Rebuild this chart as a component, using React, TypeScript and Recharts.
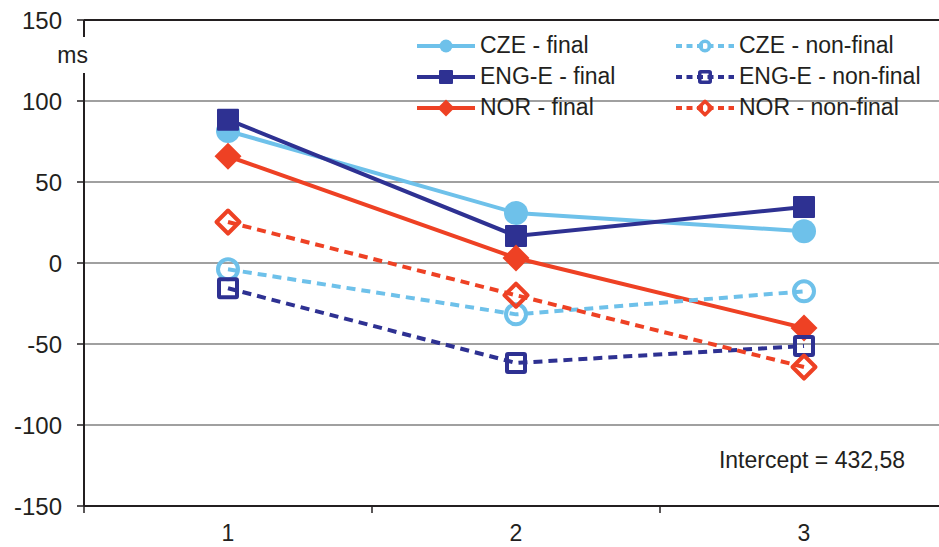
import React from 'react';
import { LineChart, Line, XAxis, YAxis, CartesianGrid, Legend, ReferenceLine } from 'recharts';

document.body.style.margin = '0';

const FONT = '"Liberation Sans", Arial, sans-serif';
const INK = '#231F20';

// x positions (1..3) plus half-steps used only for the band tick marks
const categories = [1, 2, 3];
const xTicks = [0.5, 1, 1.5, 2, 2.5, 3, 3.5];
const yTicks = [-150, -100, -50, 0, 50, 100, 150];

const czeFinal = [81.5, 30.9, 19.6];
const engFinal = [88.5, 16.7, 34.6];
const norFinal = [65.9, 3.1, -40.1];
const czeNonFinal = [-3.9, -31.7, -17.5];
const engNonFinal = [-15.6, -61.7, -51.2];
const norNonFinal = [25.3, -19.9, -64.2];

const CZE = '#6EC1EA';
const ENG = '#2E3192';
const NOR = '#EE4124';

type Shape = 'circle' | 'square' | 'diamond';

const series = [
  { key: 'czeFinal', name: 'CZE - final', color: CZE, shape: 'circle' as Shape, hollow: false, values: czeFinal },
  { key: 'engFinal', name: 'ENG-E - final', color: ENG, shape: 'square' as Shape, hollow: false, values: engFinal },
  { key: 'norFinal', name: 'NOR - final', color: NOR, shape: 'diamond' as Shape, hollow: false, values: norFinal },
  { key: 'czeNonFinal', name: 'CZE - non-final', color: CZE, shape: 'circle' as Shape, hollow: true, values: czeNonFinal },
  { key: 'engNonFinal', name: 'ENG-E - non-final', color: ENG, shape: 'square' as Shape, hollow: true, values: engNonFinal },
  { key: 'norNonFinal', name: 'NOR - non-final', color: NOR, shape: 'diamond' as Shape, hollow: true, values: norNonFinal },
];

const data = categories.map((c, i) => {
  const row: Record<string, number> = { x: c };
  series.forEach(s => { row[s.key] = s.values[i]; });
  return row;
});

function Marker({ cx, cy, shape, color, hollow, big }: { cx: number; cy: number; shape: Shape; color: string; hollow: boolean; big: boolean }) {
  if (cx == null || cy == null) return null;
  const sw = hollow ? (big ? 4 : 3.5) : 0;
  const fill = hollow ? 'none' : color;
  if (shape === 'circle') {
    const r = (big ? 12 : 6.5) - sw / 2;
    return <circle cx={cx} cy={cy} r={r} fill={fill} stroke={color} strokeWidth={sw} />;
  }
  if (shape === 'square') {
    const s = (big ? 22 : 14) - sw;
    return <rect x={cx - s / 2} y={cy - s / 2} width={s} height={s} rx={1} fill={fill} stroke={color} strokeWidth={sw} />;
  }
  const h = (big ? 13.5 : 8.5) - sw / 2;
  return (
    <polygon
      points={`${cx},${cy - h} ${cx + h},${cy} ${cx},${cy + h} ${cx - h},${cy}`}
      fill={fill}
      stroke={color}
      strokeWidth={sw}
      strokeLinejoin="round"
    />
  );
}

function renderLegend() {
  return (
    <div
      style={{
        display: 'grid',
        gridTemplateColumns: '259px 260px',
        gridAutoRows: '31px',
        fontFamily: FONT,
        fontSize: 23,
        color: INK,
      }}
    >
      {[0, 3, 1, 4, 2, 5].map(i => {
        const s = series[i];
        return (
          <div key={s.key} style={{ display: 'flex', alignItems: 'center', whiteSpace: 'nowrap' }}>
            <svg width={58} height={24} style={{ marginRight: 5 }}>
              <line
                x1={0}
                y1={12}
                x2={58}
                y2={12}
                stroke={s.color}
                strokeWidth={4}
                strokeDasharray={s.hollow ? '6 4.5' : undefined}
              />
              <Marker cx={29} cy={12} shape={s.shape} color={s.color} hollow={s.hollow} big={false} />
            </svg>
            <span>{s.name}</span>
          </div>
        );
      })}
    </div>
  );
}

// eslint-disable-next-line @typescript-eslint/no-explicit-any
function XTick({ x, y, payload }: any) {
  const v = payload.value as number;
  if (v % 1 !== 0) {
    return <line x1={x} y1={y} x2={x} y2={y + 7} stroke={INK} strokeWidth={1.5} />;
  }
  return (
    <text x={x} y={y + 35} textAnchor="middle" fontSize={23} fontFamily={FONT} fill={INK}>
      {v}
    </text>
  );
}

// eslint-disable-next-line @typescript-eslint/no-explicit-any
function MsLabel({ viewBox }: any) {
  const right = viewBox.x + viewBox.width;
  const top = viewBox.y;
  return (
    <g>
      <rect x={right - 6} y={top + 17} width={12} height={36} fill="#fff" />
      <text x={right + 4} y={top + 43} textAnchor="end" fontSize={23} fontFamily={FONT} fill={INK}>
        ms
      </text>
    </g>
  );
}

export default function App() {
  return (
    <div style={{ position: 'relative', width: 939, height: 547, background: '#fff' }}>
      <LineChart width={939} height={547} data={data} margin={{ top: 20, right: -9, bottom: 1, left: 0 }}>
        <CartesianGrid horizontal vertical={false} stroke="#808080" strokeWidth={1.5} />
        <XAxis
          dataKey="x"
          type="number"
          domain={[0.5, 3.5]}
          ticks={xTicks}
          interval={0}
          tick={<XTick />}
          tickLine={false}
          tickSize={0}
          tickMargin={0}
          height={40}
          axisLine={{ stroke: INK, strokeWidth: 2 }}
        />
        <YAxis
          type="number"
          domain={[-150, 150]}
          ticks={yTicks}
          interval={0}
          width={84}
          tickSize={7}
          tickMargin={15}
          tick={{ fontSize: 24, fill: INK, fontFamily: FONT }}
          tickLine={{ stroke: INK, strokeWidth: 1.5 }}
          axisLine={{ stroke: INK, strokeWidth: 2 }}
          label={<MsLabel />}
        />
        <ReferenceLine y={150} stroke={INK} strokeWidth={2} />
        <Legend
          verticalAlign="middle"
          layout="horizontal"
          wrapperStyle={{ left: 417, top: 30, width: 520, height: 93 }}
          content={renderLegend}
        />
        {series.map(s => (
          <Line
            key={s.key}
            dataKey={s.key}
            name={s.name}
            type="linear"
            stroke={s.color}
            strokeWidth={4}
            strokeDasharray={s.hollow ? '9 6' : undefined}
            isAnimationActive={false}
            // eslint-disable-next-line @typescript-eslint/no-explicit-any
            dot={(p: any) => (
              <Marker key={`${s.key}-${p.index}`} cx={p.cx} cy={p.cy} shape={s.shape} color={s.color} hollow={s.hollow} big />
            )}
            activeDot={false}
          />
        ))}
      </LineChart>
      <div
        style={{
          position: 'absolute',
          right: 34,
          top: 447,
          lineHeight: '26px',
          fontSize: 23,
          fontFamily: FONT,
          color: INK,
        }}
      >
        Intercept = 432,58
      </div>
    </div>
  );
}
